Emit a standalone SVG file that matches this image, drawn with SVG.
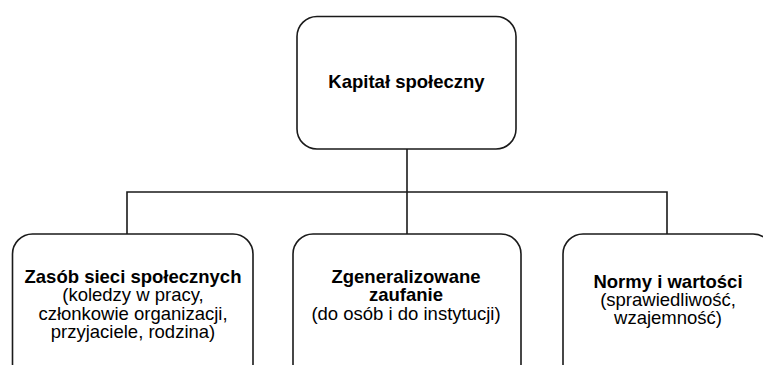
<svg xmlns="http://www.w3.org/2000/svg" width="763" height="365" viewBox="0 0 763 365">
<style>
.box{fill:#ffffff;stroke:#1a1a1a;stroke-width:1.6}
.edge{fill:none;stroke:#1a1a1a;stroke-width:1.6}
text{font-family:"Liberation Sans",Arial,Helvetica,sans-serif;font-size:18.5px;fill:#000000;text-anchor:middle}
.b{font-weight:bold}
</style>
<rect width="763" height="365" fill="#ffffff"/>
<g id="connectors">
<path class="edge" d="M407,149 V234"/>
<path class="edge" d="M127,234 V192 H667 V234"/>
</g>
<g id="kapital">
<rect class="box" x="297" y="16.5" width="219" height="132.5" rx="20" ry="20"/>
<text class="b" x="406.5" y="88">Kapitał społeczny</text>
</g>
<g id="zasob">
<rect class="box" x="12.5" y="234" width="240.5" height="150" rx="20" ry="20"/>
<text x="133" y="283"><tspan class="b">Zasób sieci społecznych</tspan><tspan x="133" dy="18.4">(koledzy w pracy,</tspan><tspan x="133" dy="18.4">członkowie organizacji,</tspan><tspan x="133" dy="18.4">przyjaciele, rodzina)</tspan></text>
</g>
<g id="zaufanie">
<rect class="box" x="293" y="234" width="228" height="150" rx="20" ry="20"/>
<text x="406" y="283"><tspan class="b">Zgeneralizowane</tspan><tspan class="b" x="406" dy="18.4">zaufanie</tspan><tspan x="406" dy="18.4">(do osób i do instytucji)</tspan></text>
</g>
<g id="normy">
<rect class="box" x="563" y="234" width="210" height="150" rx="20" ry="20"/>
<text x="668" y="288"><tspan class="b">Normy i wartości</tspan><tspan x="668" dy="18">(sprawiedliwość,</tspan><tspan x="668" dy="18">wzajemność)</tspan></text>
</g>
</svg>
